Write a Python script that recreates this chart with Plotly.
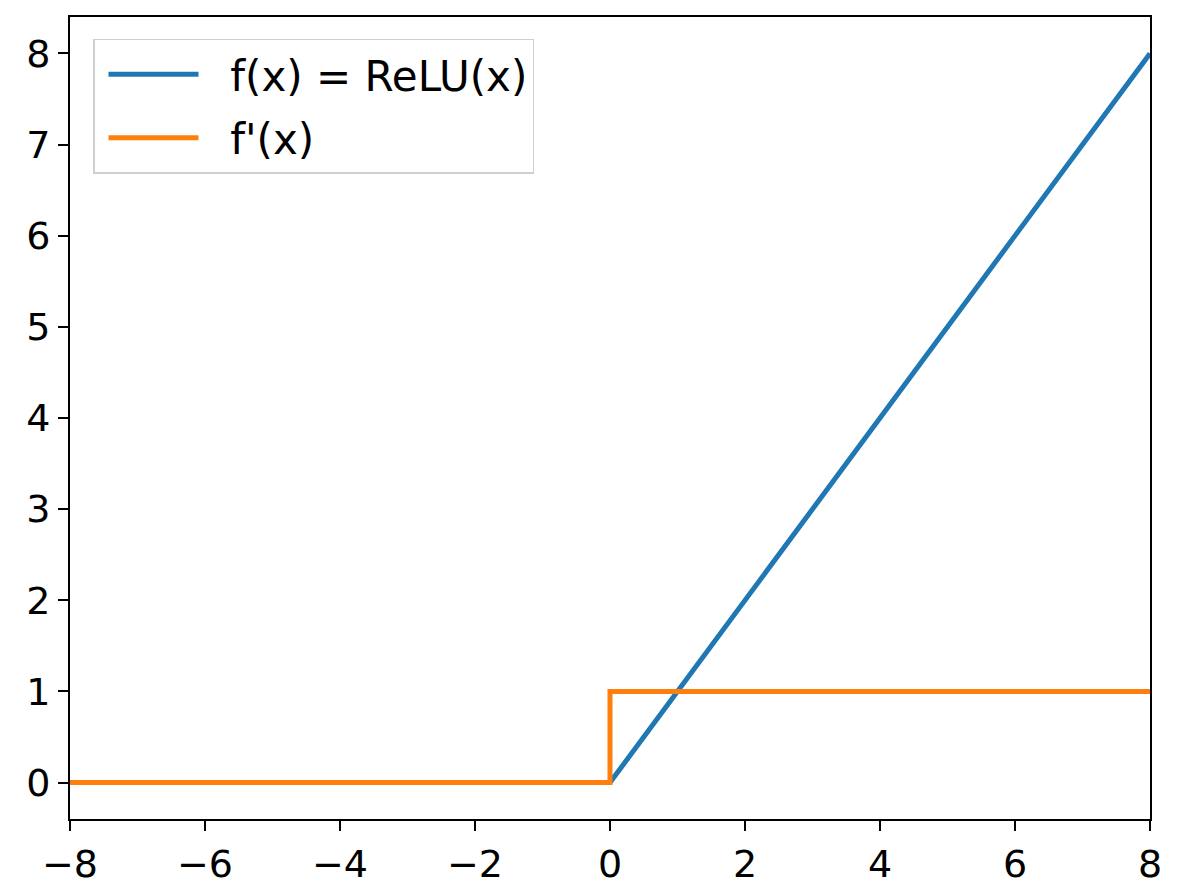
import plotly.graph_objects as go

x_relu = [-8, 0, 8]
y_relu = [0, 0, 8]
x_deriv = [-8, 0, 0, 8]
y_deriv = [0, 0, 1, 1]
x_ticks = [-8, -6, -4, -2, 0, 2, 4, 6, 8]
x_labels = ["\u22128", "\u22126", "\u22124", "\u22122", "0", "2", "4", "6", "8"]
y_ticks = [0, 1, 2, 3, 4, 5, 6, 7, 8]
series_names = ["f(x) = ReLU(x)", "f'(x)"]

pad = "\u00a0\u00a0"
fig = go.Figure()
fig.add_trace(go.Scatter(x=x_relu, y=y_relu, mode="lines", name=pad + series_names[0],
                         legendgroup="a", line=dict(color="#1f77b4", width=5)))
fig.add_trace(go.Scatter(x=x_deriv, y=y_deriv, mode="lines", name=pad + series_names[1],
                         legendgroup="b", line=dict(color="#ff7f0e", width=5)))

axis_common = dict(showgrid=False, zeroline=False, showline=True, linecolor="black",
                   linewidth=2, mirror=True, ticks="outside", ticklen=10, tickwidth=2,
                   tickcolor="black", tickfont=dict(family="DejaVu Sans", size=38, color="black"))
fig.update_xaxes(range=[-8, 8], tickvals=x_ticks, ticktext=x_labels, **axis_common)
fig.update_yaxes(range=[-0.4, 8.4], tickvals=y_ticks, **axis_common)

fig.update_layout(
    width=1184, height=896,
    margin=dict(l=62, r=42, t=7, b=85),
    plot_bgcolor="white", paper_bgcolor="white",
    showlegend=True,
    legend=dict(x=0.0213, y=0.9726, xanchor="left", yanchor="top",
                bgcolor="rgba(255,255,255,0.8)", bordercolor="#cfcfcf", borderwidth=1.5,
                font=dict(family="DejaVu Sans", size=42, color="black"),
                itemwidth=90, indentation=9, traceorder="grouped", tracegroupgap=6),
)
fig.write_html("out.html")
